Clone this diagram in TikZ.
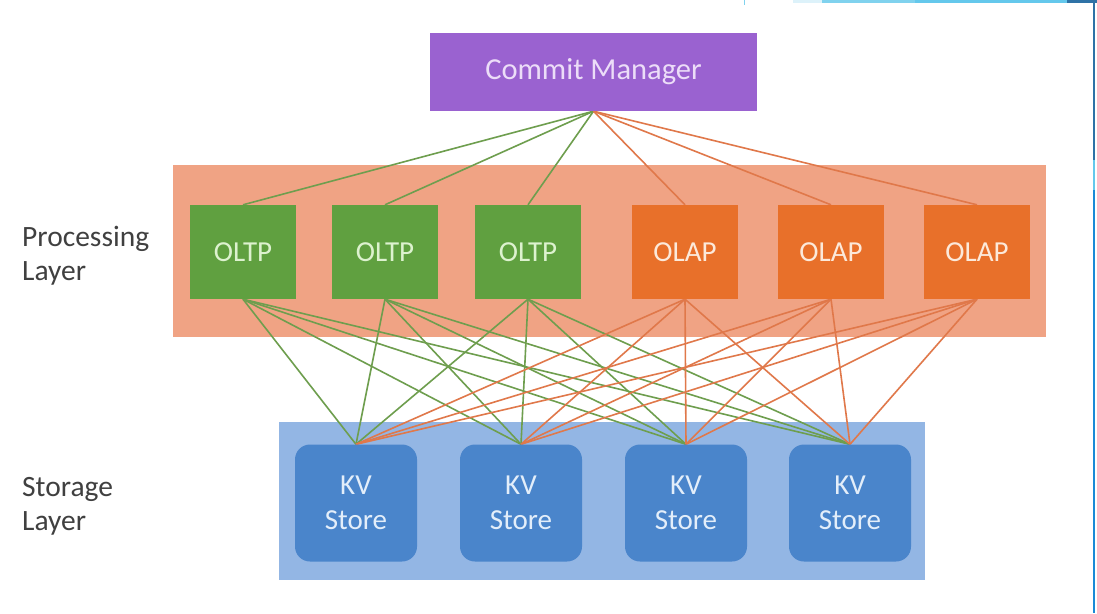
\documentclass[tikz,border=0pt]{standalone}
\usepackage{fontspec}
\setmainfont{Carlito}
\pgfdeclarelayer{bands}
\pgfdeclarelayer{links}
\pgfsetlayers{bands,links,main}

\definecolor{cmpurple}{HTML}{9A62D0}
\definecolor{cmtext}{HTML}{ECDDF8}
\definecolor{procband}{HTML}{F0A384}
\definecolor{oltpgreen}{HTML}{60A040}
\definecolor{oltptext}{HTML}{DDF2CF}
\definecolor{olaporange}{HTML}{E8702A}
\definecolor{olaptext}{HTML}{FCE9DA}
\definecolor{storeband}{HTML}{93B6E4}
\definecolor{kvblue}{HTML}{4A85CB}
\definecolor{kvtext}{HTML}{E3EEFA}
\definecolor{labelgray}{HTML}{404040}
\definecolor{linkgreen}{HTML}{6E9E4E}
\definecolor{linkorange}{HTML}{E0784A}
\definecolor{edgeA}{HTML}{DDF2FA}
\definecolor{edgeB}{HTML}{80D2EE}
\definecolor{edgeC}{HTML}{64C8EC}
\definecolor{edgeD}{HTML}{2E72A6}
\definecolor{edgeE}{HTML}{1A8AD6}

\tikzset{
  bigfont/.style={font=\fontsize{29}{34}\selectfont},
  layerband/.style={draw=none, inner sep=0pt},
  procnode/.style={bigfont, minimum width=106pt, minimum height=94pt, inner sep=0pt},
  oltpnode/.style={procnode, fill=oltpgreen, text=oltptext},
  olapnode/.style={procnode, fill=olaporange, text=olaptext},
  kvnode/.style={font=\fontsize{29}{35}\selectfont, rounded corners=15pt,
    fill=kvblue, text=kvtext, align=center, minimum width=122pt,
    minimum height=117pt, inner sep=0pt},
  sidelabel/.style={font=\fontsize{29.5}{34}\selectfont, text=labelgray,
    align=left, anchor=north west, inner sep=0pt},
  greenlink/.style={draw=linkgreen, line width=1.6pt},
  orangelink/.style={draw=linkorange, line width=1.6pt}
}

\begin{document}
\begin{tikzpicture}[x=1pt,y=-1pt]
\useasboundingbox (0,0) rectangle (1097,613);

% page, layer bands
\begin{pgfonlayer}{bands}
  \fill[white] (0,0) rectangle (1097,613);
  \node[layerband, fill=procband, minimum width=873pt, minimum height=172pt]
    (procLayer) at (609.5,251) {};
  \node[layerband, fill=storeband, minimum width=646pt, minimum height=158pt]
    (storeLayer) at (602,501) {};
\end{pgfonlayer}

% slide frame accents along the top and right edges
\fill[edgeA] (793,0) rectangle (822,3);
\fill[edgeB] (822,0) rectangle (915,3);
\fill[edgeC] (915,0) rectangle (1067,3);
\fill[edgeD] (1067,0) rectangle (1097,3);
\draw[edgeB, line width=1pt] (744,0) -- (744,5);
\fill[edgeD] (1093,0) rectangle (1095,160);
\fill[edgeC] (1093,160) rectangle (1095,190);
\fill[edgeE] (1093,190) rectangle (1095,613);

% layer labels
\node[sidelabel] (procLabel) at (22,226) {Processing\\Layer};
\node[sidelabel] (storeLabel) at (22,477) {Storage\\Layer};

% commit manager
\node[font=\fontsize{30.5}{34}\selectfont, fill=cmpurple, text=cmtext,
  minimum width=327pt, minimum height=78pt, inner sep=0pt]
  (cm) at (593.5,72) {Commit Manager};

% processing nodes
\node[oltpnode] (p1) at (243,252) {OLTP};
\node[oltpnode] (p2) at (385,252) {OLTP};
\node[oltpnode] (p3) at (528,252) {OLTP};
\node[olapnode] (p4) at (685,252) {OLAP};
\node[olapnode] (p5) at (831,252) {OLAP};
\node[olapnode] (p6) at (977,252) {OLAP};

% storage nodes
\node[kvnode] (k1) at (356,503) {KV\\Store};
\node[kvnode] (k2) at (521,503) {KV\\Store};
\node[kvnode] (k3) at (686,503) {KV\\Store};
\node[kvnode] (k4) at (850,503) {KV\\Store};

% connections
\begin{pgfonlayer}{links}
  \foreach \p in {p1,p2,p3} {
    \draw[greenlink] (cm.south) -- (\p.north);
    \foreach \k in {k1,k2,k3,k4}
      \draw[greenlink] (\p.south) -- (\k.north);
  }
  \foreach \p in {p4,p5,p6} {
    \draw[orangelink] (cm.south) -- (\p.north);
    \foreach \k in {k1,k2,k3,k4}
      \draw[orangelink] (\p.south) -- (\k.north);
  }
\end{pgfonlayer}
\end{tikzpicture}
\end{document}
